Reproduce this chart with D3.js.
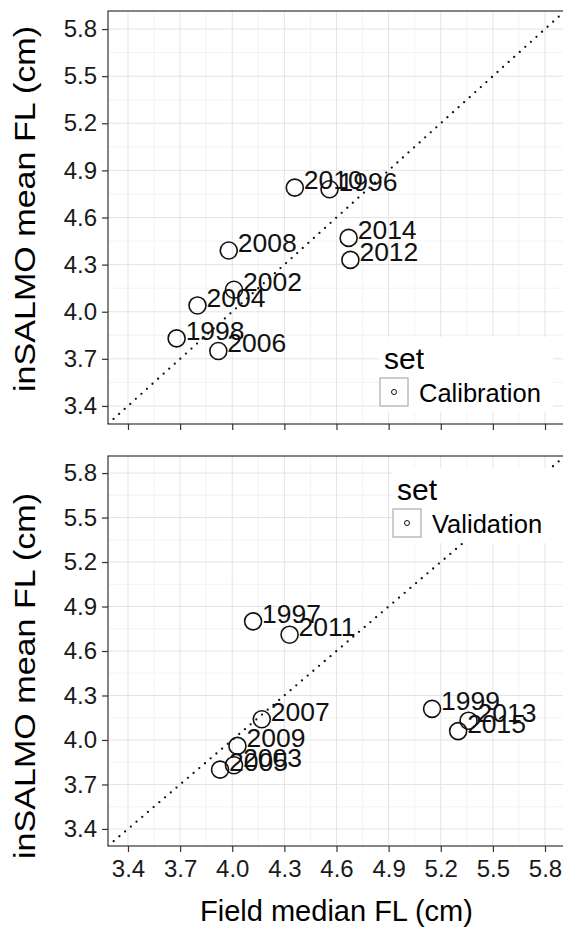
<!DOCTYPE html>
<html>
<head>
<meta charset="utf-8">
<script src="https://cdn.jsdelivr.net/npm/d3@7"></script>
<style>
  html, body { margin: 0; padding: 0; background: #fff; }
  svg { display: block; font-family: "Liberation Sans", Arial, Helvetica, sans-serif; }
</style>
</head>
<body>
<svg id="chart" width="563" height="928"></svg>
<script>
// Calibration years
const calYears = ["1996", "1998", "2002", "2004", "2006", "2008", "2010", "2012", "2014"];
const calField = [4.56, 3.68, 4.01, 3.80, 3.92, 3.98, 4.36, 4.68, 4.67];
const calModel = [4.78, 3.83, 4.14, 4.04, 3.75, 4.39, 4.79, 4.33, 4.47];

// Validation years
const valYears = ["1997", "1999", "2003", "2005", "2007", "2009", "2011", "2013", "2015"];
const valField = [4.12, 5.15, 4.01, 3.93, 4.17, 4.03, 4.33, 5.36, 5.30];
const valModel = [4.80, 4.21, 3.83, 3.80, 4.14, 3.96, 4.71, 4.13, 4.06];

// Axis ticks and limits (same for both axes)
const tickValues = [3.4, 3.7, 4.0, 4.3, 4.6, 4.9, 5.2, 5.5, 5.8];
const minorValues = [3.25, 3.55, 3.85, 4.15, 4.45, 4.75, 5.05, 5.35, 5.65, 5.95];
const limits = [3.285, 5.915];

const svg = d3.select("#chart");

const panelLeft = 108, panelRight = 565;
const x = d3.scaleLinear().domain(limits).range([panelLeft, panelRight]);

const panels = [
  { top: 11, bottom: 424, name: "Calibration", years: calYears, fx: calField, fy: calModel,
    legend: { x: 379, y: 337 }, titleCenter: 209 },
  { top: 456, bottom: 846, name: "Validation", years: valYears, fx: valField, fy: valModel,
    legend: { x: 392, y: 468 }, titleCenter: 676 }
];

const fmt = d3.format(".1f");

panels.forEach((p, i) => {
  const y = d3.scaleLinear().domain(limits).range([p.bottom, p.top]);
  const g = svg.append("g");
  const clipId = "clip" + i;
  svg.append("clipPath").attr("id", clipId)
    .append("rect").attr("x", panelLeft).attr("y", p.top)
    .attr("width", panelRight - panelLeft).attr("height", p.bottom - p.top);

  const plot = g.append("g").attr("clip-path", `url(#${clipId})`);
  plot.append("rect").attr("x", panelLeft).attr("y", p.top)
    .attr("width", panelRight - panelLeft).attr("height", p.bottom - p.top)
    .attr("fill", "#fff");

  // grid: minor then major
  minorValues.forEach(v => {
    plot.append("line").attr("x1", x(v)).attr("x2", x(v)).attr("y1", p.top).attr("y2", p.bottom)
      .attr("stroke", "#f0f0f0").attr("stroke-width", 0.8);
    plot.append("line").attr("y1", y(v)).attr("y2", y(v)).attr("x1", panelLeft).attr("x2", panelRight)
      .attr("stroke", "#f0f0f0").attr("stroke-width", 0.8);
  });
  tickValues.forEach(v => {
    plot.append("line").attr("x1", x(v)).attr("x2", x(v)).attr("y1", p.top).attr("y2", p.bottom)
      .attr("stroke", "#e4e4e4").attr("stroke-width", 1);
    plot.append("line").attr("y1", y(v)).attr("y2", y(v)).attr("x1", panelLeft).attr("x2", panelRight)
      .attr("stroke", "#e4e4e4").attr("stroke-width", 1);
  });

  // 1:1 reference line
  plot.append("line")
    .attr("x1", x(limits[0])).attr("y1", y(limits[0]))
    .attr("x2", x(limits[1])).attr("y2", y(limits[1]))
    .attr("stroke", "#111").attr("stroke-width", 2.3)
    .attr("stroke-linecap", "round").attr("stroke-dasharray", "0,7.5");

  // points
  const data = p.years.map((yr, k) => ({ yr, fx: p.fx[k], fy: p.fy[k] }));
  plot.selectAll("circle.pt").data(data).enter().append("circle")
    .attr("class", "pt")
    .attr("cx", d => x(d.fx)).attr("cy", d => y(d.fy)).attr("r", 8.5)
    .attr("fill", "none").attr("stroke", "#111").attr("stroke-width", 1.6);

  // year labels
  plot.selectAll("text.lab").data(data).enter().append("text")
    .attr("class", "lab")
    .attr("x", d => x(d.fx) + 9).attr("y", d => y(d.fy) + 1.5)
    .attr("font-size", 26.5).attr("fill", "#111")
    .text(d => d.yr);

  // legend
  const L = p.legend;
  const lg = g.append("g").attr("transform", `translate(${L.x},${L.y})`);
  lg.append("rect").attr("x", 0).attr("y", 0).attr("width", 174).attr("height", 75).attr("fill", "#fff");
  lg.append("text").attr("x", 5).attr("y", 32).attr("font-size", 30).attr("fill", "#000").text("set");
  lg.append("rect").attr("x", 1).attr("y", 41).attr("width", 28).attr("height", 28)
    .attr("fill", "#fff").attr("stroke", "#b3b3b3").attr("stroke-width", 1.3);
  lg.append("circle").attr("cx", 15).attr("cy", 55).attr("r", 2.5)
    .attr("fill", "none").attr("stroke", "#111").attr("stroke-width", 1);
  lg.append("text").attr("x", 40).attr("y", 65).attr("font-size", 25.5).attr("fill", "#000").text(p.name);

  // panel border
  g.append("rect").attr("x", panelLeft).attr("y", p.top)
    .attr("width", panelRight - panelLeft).attr("height", p.bottom - p.top)
    .attr("fill", "none").attr("stroke", "#333").attr("stroke-width", 1.2);

  // y axis
  const yAxis = d3.axisLeft(y).tickValues(tickValues).tickFormat(fmt).tickSize(6).tickPadding(5);
  const ya = g.append("g").attr("transform", `translate(${panelLeft},0)`).call(yAxis);
  ya.select(".domain").remove();
  ya.selectAll(".tick line").attr("stroke", "#333").attr("stroke-width", 1.2);
  ya.selectAll(".tick text").attr("font-size", 24).attr("fill", "#1a1a1a")
    .attr("font-family", "Liberation Sans, Arial, sans-serif");

  // x axis ticks (labels only under the lower panel)
  const xAxis = d3.axisBottom(x).tickValues(tickValues).tickFormat(fmt).tickSize(6).tickPadding(8);
  const xa = g.append("g").attr("transform", `translate(0,${p.bottom})`).call(xAxis);
  xa.select(".domain").remove();
  xa.selectAll(".tick line").attr("stroke", "#333").attr("stroke-width", 1.2);
  xa.selectAll(".tick text").attr("font-size", 24).attr("fill", "#1a1a1a")
    .attr("font-family", "Liberation Sans, Arial, sans-serif");
  if (i === 0) xa.selectAll(".tick text").remove();

  // y title
  svg.append("text")
    .attr("transform", `translate(35,${p.titleCenter}) rotate(-90)`)
    .attr("text-anchor", "middle").attr("font-size", 29).attr("fill", "#000")
    .attr("textLength", 366).attr("lengthAdjust", "spacingAndGlyphs")
    .text("inSALMO mean FL (cm)");
});

// x title
svg.append("text")
  .attr("x", (panelLeft + panelRight) / 2).attr("y", 921)
  .attr("text-anchor", "middle").attr("font-size", 29).attr("fill", "#000")
  .text("Field median FL (cm)");
</script>
</body>
</html>
